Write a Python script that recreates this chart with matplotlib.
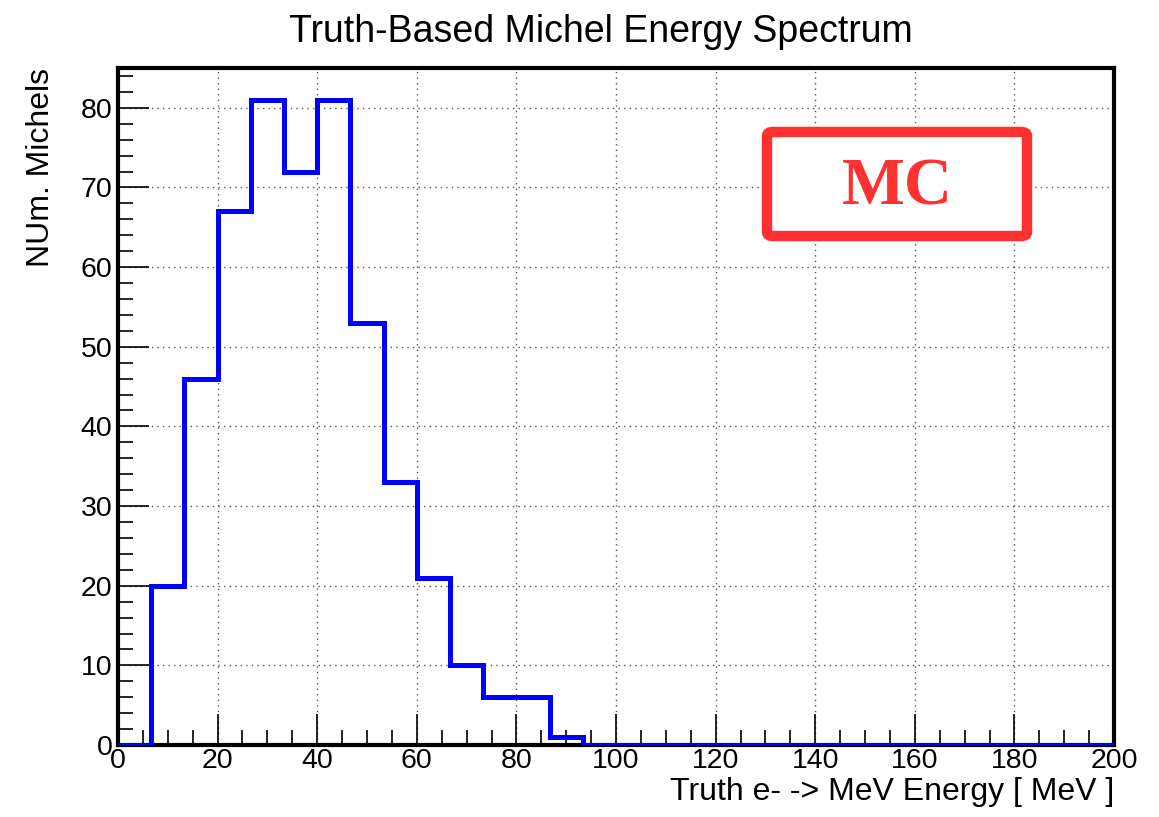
import numpy as np
import matplotlib
matplotlib.use("Agg")
import matplotlib.pyplot as plt
from matplotlib.patches import FancyBboxPatch
from matplotlib.ticker import MultipleLocator

plt.rcParams['font.family'] = ['Liberation Sans', 'DejaVu Sans']

# Data: 30 bins from 0 to 200 MeV
x_min, x_max, n_bins = 0, 200, 30
counts = [0, 20, 46, 67, 81, 72, 81, 53, 33, 21, 10, 6, 6, 1, 0,
          0, 0, 0, 0, 0, 0, 0, 0, 0, 0, 0, 0, 0, 0, 0]
edges = np.linspace(x_min, x_max, n_bins + 1)

title = "Truth-Based Michel Energy Spectrum"
xlabel = "Truth e- -> MeV Energy [ MeV ]"
ylabel = "NUm. Michels"

fig = plt.figure(figsize=(11.59, 8.17), dpi=100)
ax = fig.add_axes([0.1018, 0.0881, 0.8594, 0.8287])

ax.stairs(counts, edges, color=(0, 0, 1), linewidth=3.6, zorder=3)

ax.set_xlim(x_min, x_max)
ax.set_ylim(0, 85)
ax.xaxis.set_major_locator(MultipleLocator(20))
ax.xaxis.set_minor_locator(MultipleLocator(5))
ax.yaxis.set_major_locator(MultipleLocator(10))
ax.yaxis.set_minor_locator(MultipleLocator(2))
ax.tick_params(axis='both', which='major', direction='in', length=22, width=1.2,
               labelsize=20.5, pad=4, top=False, right=False)
ax.tick_params(axis='both', which='minor', direction='in', length=11, width=1.2,
               top=False, right=False)
ax.tick_params(axis='x', which='major', pad=2)
ax.grid(True, which='major', linestyle=(0, (1, 3)), color='#555555', linewidth=1.0)
for s in ax.spines.values():
    s.set_linewidth(3)

fig.text(0.5186, 0.961, title, fontsize=27, ha='center', va='center')
ax.set_xlabel(xlabel, fontsize=23, loc='right', labelpad=2)
ax.set_ylabel(ylabel, fontsize=23, loc='top', labelpad=18)

# MC box
box = FancyBboxPatch((0.6516, 0.7518), 0.261, 0.1537,
                     boxstyle="round,pad=0,rounding_size=0.006",
                     transform=ax.transAxes, facecolor='white',
                     edgecolor='#ff3030', linewidth=7.5, zorder=4)
ax.add_patch(box)
ax.text(0.782, 0.822, "MC", transform=ax.transAxes, color='#ff3030',
        fontsize=48, fontweight='bold', family='Liberation Serif',
        ha='center', va='center', zorder=5)

fig.savefig("out.png", dpi=100)
